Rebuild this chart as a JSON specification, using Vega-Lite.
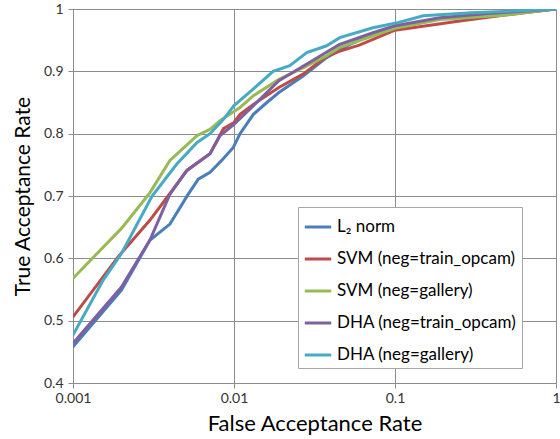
{
  "$schema": "https://vega.github.io/schema/vega-lite/v6.json",
  "width": 483,
  "height": 374,
  "autosize": {"type": "none"},
  "padding": {"left": 73, "top": 9, "right": 4, "bottom": 56},
  "background": "white",
  "config": {
    "font": "Lato",
    "view": {"stroke": null},
    "axis": {
      "gridColor": "#8c8c8c",
      "gridWidth": 1,
      "domainColor": "#8c8c8c",
      "tickColor": "#8c8c8c",
      "tickSize": 5,
      "labelFont": "Lato",
      "labelFontSize": 14,
      "labelColor": "#333333",
      "titleFont": "Lato",
      "titleFontWeight": "normal",
      "titleColor": "#000000"
    }
  },
  "data": {"values": [
    {"s": "L₂ norm", "far": 0.001, "tar": 0.458},
    {"s": "L₂ norm", "far": 0.002, "tar": 0.549},
    {"s": "L₂ norm", "far": 0.003, "tar": 0.629},
    {"s": "L₂ norm", "far": 0.004, "tar": 0.655},
    {"s": "L₂ norm", "far": 0.0052, "tar": 0.703},
    {"s": "L₂ norm", "far": 0.006, "tar": 0.727},
    {"s": "L₂ norm", "far": 0.0071, "tar": 0.738},
    {"s": "L₂ norm", "far": 0.0086, "tar": 0.76},
    {"s": "L₂ norm", "far": 0.0099, "tar": 0.778},
    {"s": "L₂ norm", "far": 0.0109, "tar": 0.8},
    {"s": "L₂ norm", "far": 0.0132, "tar": 0.831},
    {"s": "L₂ norm", "far": 0.016, "tar": 0.85},
    {"s": "L₂ norm", "far": 0.019, "tar": 0.866},
    {"s": "L₂ norm", "far": 0.027, "tar": 0.893},
    {"s": "L₂ norm", "far": 0.0376, "tar": 0.922},
    {"s": "L₂ norm", "far": 0.0514, "tar": 0.942},
    {"s": "L₂ norm", "far": 0.07, "tar": 0.958},
    {"s": "L₂ norm", "far": 0.1, "tar": 0.971},
    {"s": "L₂ norm", "far": 0.2, "tar": 0.985},
    {"s": "L₂ norm", "far": 0.47, "tar": 0.992},
    {"s": "L₂ norm", "far": 1.0, "tar": 1.0},

    {"s": "SVM (neg=train_opcam)", "far": 0.001, "tar": 0.506},
    {"s": "SVM (neg=train_opcam)", "far": 0.0019, "tar": 0.602},
    {"s": "SVM (neg=train_opcam)", "far": 0.003, "tar": 0.661},
    {"s": "SVM (neg=train_opcam)", "far": 0.004, "tar": 0.704},
    {"s": "SVM (neg=train_opcam)", "far": 0.0051, "tar": 0.741},
    {"s": "SVM (neg=train_opcam)", "far": 0.0071, "tar": 0.768},
    {"s": "SVM (neg=train_opcam)", "far": 0.0086, "tar": 0.808},
    {"s": "SVM (neg=train_opcam)", "far": 0.01, "tar": 0.818},
    {"s": "SVM (neg=train_opcam)", "far": 0.0109, "tar": 0.831},
    {"s": "SVM (neg=train_opcam)", "far": 0.0132, "tar": 0.847},
    {"s": "SVM (neg=train_opcam)", "far": 0.019, "tar": 0.874},
    {"s": "SVM (neg=train_opcam)", "far": 0.027, "tar": 0.896},
    {"s": "SVM (neg=train_opcam)", "far": 0.0376, "tar": 0.924},
    {"s": "SVM (neg=train_opcam)", "far": 0.045, "tar": 0.932},
    {"s": "SVM (neg=train_opcam)", "far": 0.06, "tar": 0.942},
    {"s": "SVM (neg=train_opcam)", "far": 0.1, "tar": 0.966},
    {"s": "SVM (neg=train_opcam)", "far": 0.24, "tar": 0.98},
    {"s": "SVM (neg=train_opcam)", "far": 0.47, "tar": 0.99},
    {"s": "SVM (neg=train_opcam)", "far": 1.0, "tar": 1.0},

    {"s": "SVM (neg=gallery)", "far": 0.001, "tar": 0.568},
    {"s": "SVM (neg=gallery)", "far": 0.002, "tar": 0.648},
    {"s": "SVM (neg=gallery)", "far": 0.003, "tar": 0.705},
    {"s": "SVM (neg=gallery)", "far": 0.004, "tar": 0.757},
    {"s": "SVM (neg=gallery)", "far": 0.0059, "tar": 0.797},
    {"s": "SVM (neg=gallery)", "far": 0.0071, "tar": 0.807},
    {"s": "SVM (neg=gallery)", "far": 0.0082, "tar": 0.821},
    {"s": "SVM (neg=gallery)", "far": 0.0109, "tar": 0.842},
    {"s": "SVM (neg=gallery)", "far": 0.0132, "tar": 0.861},
    {"s": "SVM (neg=gallery)", "far": 0.019, "tar": 0.887},
    {"s": "SVM (neg=gallery)", "far": 0.027, "tar": 0.906},
    {"s": "SVM (neg=gallery)", "far": 0.0376, "tar": 0.925},
    {"s": "SVM (neg=gallery)", "far": 0.045, "tar": 0.938},
    {"s": "SVM (neg=gallery)", "far": 0.1, "tar": 0.969},
    {"s": "SVM (neg=gallery)", "far": 0.19, "tar": 0.983},
    {"s": "SVM (neg=gallery)", "far": 0.47, "tar": 0.99},
    {"s": "SVM (neg=gallery)", "far": 1.0, "tar": 1.0},

    {"s": "DHA (neg=train_opcam)", "far": 0.001, "tar": 0.4635},
    {"s": "DHA (neg=train_opcam)", "far": 0.002, "tar": 0.554},
    {"s": "DHA (neg=train_opcam)", "far": 0.003, "tar": 0.629},
    {"s": "DHA (neg=train_opcam)", "far": 0.004, "tar": 0.703},
    {"s": "DHA (neg=train_opcam)", "far": 0.0051, "tar": 0.741},
    {"s": "DHA (neg=train_opcam)", "far": 0.0071, "tar": 0.768},
    {"s": "DHA (neg=train_opcam)", "far": 0.0082, "tar": 0.797},
    {"s": "DHA (neg=train_opcam)", "far": 0.01, "tar": 0.815},
    {"s": "DHA (neg=train_opcam)", "far": 0.0132, "tar": 0.845},
    {"s": "DHA (neg=train_opcam)", "far": 0.019, "tar": 0.885},
    {"s": "DHA (neg=train_opcam)", "far": 0.028, "tar": 0.911},
    {"s": "DHA (neg=train_opcam)", "far": 0.045, "tar": 0.943},
    {"s": "DHA (neg=train_opcam)", "far": 0.073, "tar": 0.962},
    {"s": "DHA (neg=train_opcam)", "far": 0.1, "tar": 0.973},
    {"s": "DHA (neg=train_opcam)", "far": 0.19, "tar": 0.986},
    {"s": "DHA (neg=train_opcam)", "far": 0.39, "tar": 0.993},
    {"s": "DHA (neg=train_opcam)", "far": 1.0, "tar": 1.0},

    {"s": "DHA (neg=gallery)", "far": 0.001, "tar": 0.477},
    {"s": "DHA (neg=gallery)", "far": 0.00154, "tar": 0.565},
    {"s": "DHA (neg=gallery)", "far": 0.002, "tar": 0.608},
    {"s": "DHA (neg=gallery)", "far": 0.0031, "tar": 0.7},
    {"s": "DHA (neg=gallery)", "far": 0.0044, "tar": 0.751},
    {"s": "DHA (neg=gallery)", "far": 0.0059, "tar": 0.786},
    {"s": "DHA (neg=gallery)", "far": 0.0071, "tar": 0.8},
    {"s": "DHA (neg=gallery)", "far": 0.0086, "tar": 0.823},
    {"s": "DHA (neg=gallery)", "far": 0.01, "tar": 0.845},
    {"s": "DHA (neg=gallery)", "far": 0.0132, "tar": 0.872},
    {"s": "DHA (neg=gallery)", "far": 0.0175, "tar": 0.9},
    {"s": "DHA (neg=gallery)", "far": 0.0222, "tar": 0.909},
    {"s": "DHA (neg=gallery)", "far": 0.0283, "tar": 0.93},
    {"s": "DHA (neg=gallery)", "far": 0.0376, "tar": 0.941},
    {"s": "DHA (neg=gallery)", "far": 0.0454, "tar": 0.954},
    {"s": "DHA (neg=gallery)", "far": 0.073, "tar": 0.97},
    {"s": "DHA (neg=gallery)", "far": 0.1, "tar": 0.977},
    {"s": "DHA (neg=gallery)", "far": 0.15, "tar": 0.989},
    {"s": "DHA (neg=gallery)", "far": 0.3, "tar": 0.994},
    {"s": "DHA (neg=gallery)", "far": 0.6, "tar": 0.997},
    {"s": "DHA (neg=gallery)", "far": 1.0, "tar": 1.0}
  ]},
  "mark": {"type": "line", "strokeWidth": 3, "clip": true},
  "encoding": {
    "x": {
      "field": "far", "type": "quantitative",
      "scale": {"type": "log", "domain": [0.001, 1], "nice": false},
      "axis": {
        "title": "False Acceptance Rate",
        "titleFontSize": 22,
        "values": [0.001, 0.01, 0.1, 1],
        "format": "~g",
        "labelPadding": 3,
        "titlePadding": 8,
        "labelFlush": false
      }
    },
    "y": {
      "field": "tar", "type": "quantitative",
      "scale": {"domain": [0.4, 1], "nice": false, "zero": false},
      "axis": {
        "title": "True Acceptance Rate",
        "titleFontSize": 21,
        "values": [0.4, 0.5, 0.6, 0.7, 0.8, 0.9, 1],
        "labelExpr": "datum.value == 1 ? '1' : format(datum.value, '.1f')",
        "labelPadding": 5,
        "titlePadding": 10,
        "labelFlush": false
      }
    },
    "color": {
      "field": "s", "type": "nominal",
      "scale": {
        "domain": ["L₂ norm", "SVM (neg=train_opcam)", "SVM (neg=gallery)", "DHA (neg=train_opcam)", "DHA (neg=gallery)"],
        "range": ["#4a7ebb", "#be4b48", "#98b954", "#7d60a0", "#46aac5"]
      },
      "legend": {
        "title": null,
        "orient": "none",
        "legendX": 225,
        "legendY": 198,
        "symbolType": "stroke",
        "symbolSize": 700,
        "symbolStrokeWidth": 3,
        "labelFontSize": 17,
        "labelFont": "Lato",
        "labelColor": "#000000",
        "labelLimit": 0,
        "labelOffset": 4,
        "rowPadding": 9,
        "padding": 5,
        "strokeColor": "#a6a6a6",
        "fillColor": "white"
      }
    }
  }
}
